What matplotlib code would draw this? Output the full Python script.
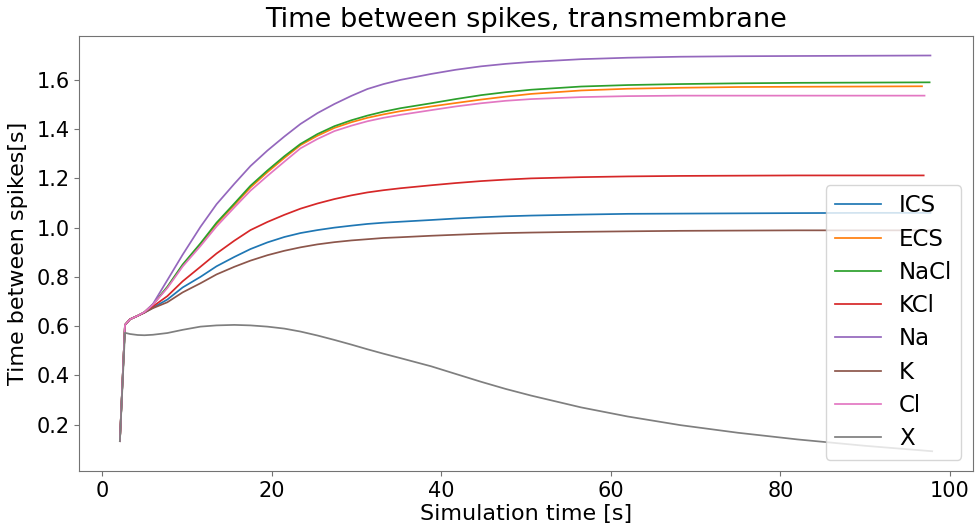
import matplotlib
matplotlib.use("Agg")
import matplotlib.pyplot as plt

labels = ["ICS", "ECS", "NaCl", "KCl", "Na", "K", "Cl", "X"]

# shared sampling times (s); the last point of each series uses t_end
t = [2.1, 2.7, 3.3, 4.2, 5.0, 6.0, 7.7, 9.5, 11.6, 13.5, 15.6, 17.5, 19.5, 21.5,
     23.4, 25.4, 27.4, 29.4, 31.3, 33.2, 35.2, 38.8, 41.7, 44.7, 47.6, 50.6,
     56.5, 62.0, 68.2, 75.0, 82.0, 90.0]
t_end = [97.7, 96.7, 97.6, 96.9, 97.7, 97.7, 97.0, 97.9]

ics = [0.133, 0.605, 0.628, 0.642, 0.655, 0.675, 0.708, 0.757, 0.800, 0.843, 0.881,
       0.913, 0.940, 0.962, 0.978, 0.990, 1.000, 1.008, 1.015, 1.020, 1.024, 1.031,
       1.037, 1.042, 1.046, 1.049, 1.053, 1.056, 1.057, 1.058, 1.059, 1.060, 1.060]
ecs = [0.133, 0.605, 0.628, 0.642, 0.657, 0.688, 0.758, 0.847, 0.932, 1.015, 1.092,
       1.163, 1.225, 1.283, 1.335, 1.373, 1.405, 1.428, 1.446, 1.460, 1.473, 1.492,
       1.506, 1.520, 1.532, 1.543, 1.557, 1.564, 1.568, 1.571, 1.572, 1.573, 1.574]
nacl = [0.133, 0.605, 0.628, 0.642, 0.657, 0.688, 0.760, 0.850, 0.936, 1.020, 1.098,
        1.170, 1.232, 1.290, 1.340, 1.380, 1.412, 1.436, 1.455, 1.471, 1.485, 1.505,
        1.522, 1.538, 1.550, 1.560, 1.573, 1.579, 1.583, 1.586, 1.588, 1.589, 1.590]
kcl = [0.133, 0.605, 0.628, 0.642, 0.655, 0.680, 0.722, 0.782, 0.841, 0.895, 0.947,
       0.990, 1.023, 1.052, 1.077, 1.098, 1.116, 1.131, 1.143, 1.152, 1.160, 1.172,
       1.181, 1.189, 1.195, 1.200, 1.205, 1.208, 1.210, 1.211, 1.212, 1.212, 1.212]
na = [0.133, 0.605, 0.628, 0.642, 0.657, 0.690, 0.787, 0.890, 1.003, 1.095, 1.178,
      1.250, 1.313, 1.370, 1.421, 1.465, 1.502, 1.535, 1.563, 1.583, 1.600, 1.624,
      1.641, 1.655, 1.665, 1.673, 1.684, 1.690, 1.694, 1.696, 1.697, 1.698, 1.699]
k = [0.133, 0.605, 0.628, 0.642, 0.655, 0.673, 0.697, 0.737, 0.774, 0.810, 0.841,
     0.866, 0.888, 0.906, 0.920, 0.932, 0.941, 0.948, 0.953, 0.958, 0.961, 0.967,
     0.971, 0.975, 0.978, 0.980, 0.983, 0.985, 0.987, 0.988, 0.989, 0.989, 0.989]
cl = [0.133, 0.605, 0.628, 0.642, 0.657, 0.687, 0.755, 0.842, 0.925, 1.005, 1.082,
      1.150, 1.210, 1.268, 1.322, 1.360, 1.392, 1.414, 1.432, 1.446, 1.458, 1.477,
      1.492, 1.505, 1.515, 1.522, 1.530, 1.534, 1.536, 1.536, 1.536, 1.536, 1.536]
x_ion = [0.133, 0.573, 0.568, 0.564, 0.563, 0.565, 0.572, 0.585, 0.598, 0.603, 0.605,
         0.603, 0.598, 0.590, 0.578, 0.562, 0.544, 0.525, 0.506, 0.488, 0.470, 0.437,
         0.406, 0.374, 0.345, 0.318, 0.270, 0.233, 0.198, 0.167, 0.140, 0.114, 0.092]

series = [ics, ecs, nacl, kcl, na, k, cl, x_ion]

fig = plt.figure(figsize=(9.75, 5.29), dpi=100)
ax = fig.add_axes([0.0813, 0.1096, 0.9164, 0.8229])

for lab, ys, te in zip(labels, series, t_end):
    ax.plot(t + [te], ys, label=lab, linewidth=1.25)

ax.set_title("Time between spikes, transmembrane", fontsize=19.5)
ax.set_xlabel("Simulation time [s]", fontsize=16, labelpad=2)
ax.set_ylabel("Time between spikes[s]", fontsize=16, labelpad=6)
ax.tick_params(labelsize=15)
ax.set_xticks([0, 20, 40, 60, 80, 100])
ax.set_yticks([0.2, 0.4, 0.6, 0.8, 1.0, 1.2, 1.4, 1.6])
for s in ax.spines.values():
    s.set_edgecolor("0.45")
ax.tick_params(color="0.45")
ax.legend(loc="lower right", fontsize=16.5, handlelength=2.0, labelspacing=0.45)

fig.savefig("out.png", dpi=100)
